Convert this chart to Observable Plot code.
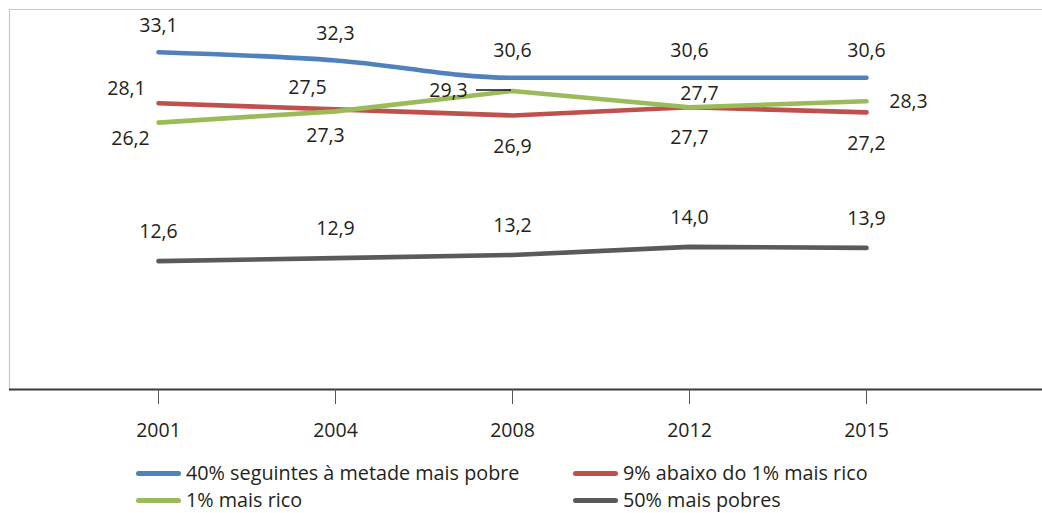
<!DOCTYPE html>
<html>
<head>
<meta charset="utf-8">
<script src="https://cdn.jsdelivr.net/npm/d3@7"></script>
<script src="https://cdn.jsdelivr.net/npm/@observablehq/plot@0.6"></script>
<style>
  html, body { margin: 0; padding: 0; background: #fff; overflow: hidden; }
  #wrap { width: 1042px; font-family: "Open Sans", sans-serif; color: #231f20; }
  #legend { position: relative; height: 64px; font-size: 19.8px; line-height: 22px; }
  .item { position: absolute; display: flex; align-items: center; height: 22px; white-space: nowrap; }
  .sw { width: 45px; height: 5px; border-radius: 3px; margin-right: 5px; }
</style>
</head>
<body>
<div id="wrap"><div id="chart"></div><div id="legend"></div></div>
<script>
// ---- data ----
const years = ["2001", "2004", "2008", "2012", "2015"];
const seriesNames = [
  "40% seguintes à metade mais pobre",
  "9% abaixo do 1% mais rico",
  "1% mais rico",
  "50% mais pobres"
];
const next40 = [33.1, 32.3, 30.6, 30.6, 30.6];
const below1 = [28.1, 27.5, 26.9, 27.7, 27.2];
const top1   = [26.2, 27.3, 29.3, 27.7, 28.3];
const poor50 = [12.6, 12.9, 13.2, 14.0, 13.9];

const colors = ["#4F81BD", "#C0504D", "#9BBB59", "#5A5A5A"];

// label offsets (pixels) relative to each point
const labelDx = [
  [0, 0, 0, 0, 0],
  [-32, -28, 0, 0, 0],
  [-28, -10, -64, 10, 42],
  [0, 0, 0, 0, 0]
];
const labelDy = [
  [-27, -27, -27, -27, -27],
  [-14, -22, 31, 30, 31],
  [16, 24, 0, -14, 1],
  [-29, -29, -29, -29, -29]
];

const values = [next40, below1, top1, poor50];
const rows = values.flatMap((vals, s) => vals.map((v, i) => ({
  series: seriesNames[s], s, i, year: years[i], value: v
})));
const bySeries = s => rows.filter(d => d.s === s);
const fmt = v => v.toFixed(1).replace(".", ",");

const drawOrder = [3, 1, 2, 0];
const curves = ["monotone-x", "linear", "linear", "linear"];

const marks = [
  Plot.frame({anchor: "top", stroke: "#c8c8c8", strokeWidth: 1.2}),
  Plot.frame({anchor: "left", stroke: "#c8c8c8", strokeWidth: 1.2}),
  ...drawOrder.map(s => Plot.line(bySeries(s), {
    x: "year", y: "value", stroke: colors[s], strokeWidth: 4.6,
    strokeLinecap: "round", strokeLinejoin: "round", curve: curves[s]
  })),
  Plot.ruleY(rows.filter(d => d.s === 2 && d.i === 2), {
    x1: "year", x2: "year", y: "value", stroke: "#111", strokeWidth: 1.3,
    insetLeft: -36, insetRight: 1, dy: -1
  }),
  ...rows.map(d => Plot.text([d], {
    x: "year", y: "value", text: dd => fmt(dd.value),
    dx: labelDx[d.s][d.i], dy: labelDy[d.s][d.i],
    fontSize: 19.5, fill: "#231f20", fontFamily: "Open Sans"
  })),
  Plot.ruleY([0], {stroke: "#3a3a3a", strokeWidth: 1.8}),
  Plot.axisX({
    tickSize: 15, tickPadding: 19, fontSize: 19.5, stroke: "#555",
    fill: "#231f20", fontFamily: "Open Sans", label: null, tickFormat: d => d
  })
];

const chart = Plot.plot({
  width: 1042,
  height: 449,
  marginTop: 9,
  marginBottom: 60,
  marginLeft: 9,
  marginRight: 0,
  style: {fontFamily: "Open Sans", background: "#fff", overflow: "visible"},
  x: {type: "point", domain: years, padding: 0.918, align: 0.458, label: null},
  y: {domain: [0, 37.3], axis: null},
  marks
});
document.getElementById("chart").appendChild(chart);

// legend
const legend = document.getElementById("legend");
const legendPos = [[136, 13], [573, 13], [136, 40], [573, 40]];
const legendOrder = [0, 1, 2, 3];
legendOrder.forEach((s, k) => {
  const it = document.createElement("div");
  it.className = "item";
  it.style.left = legendPos[k][0] + "px";
  it.style.top = legendPos[k][1] + "px";
  const sw = document.createElement("span");
  sw.className = "sw";
  sw.style.background = colors[s];
  const tx = document.createElement("span");
  tx.textContent = seriesNames[s];
  it.appendChild(sw); it.appendChild(tx);
  legend.appendChild(it);
});
</script>
</body>
</html>
